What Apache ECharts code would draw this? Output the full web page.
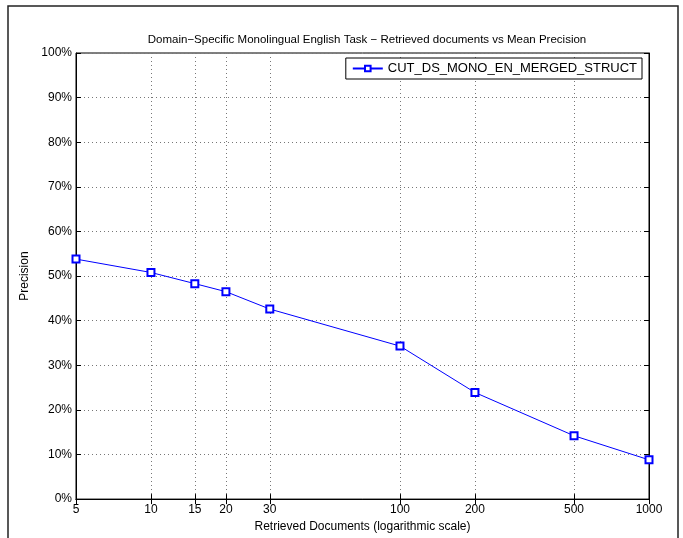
<!DOCTYPE html>
<html><head><meta charset="utf-8">
<script src="https://cdn.jsdelivr.net/npm/echarts@6/dist/echarts.min.js"></script>
<style>html,body{margin:0;padding:0;background:#fff}#c{width:683px;height:538px}</style>
</head><body><div id="c"></div>
<script>
var retrievedDocs = [5, 10, 15, 20, 30, 100, 200, 500, 1000];
var precision = [53.8, 50.8, 48.3, 46.5, 42.6, 34.3, 23.9, 14.2, 8.8];
var xTicks = [5, 10, 15, 20, 30, 100, 200, 500, 1000];
var seriesName = 'CUT_DS_MONO_EN_MERGED_STRUCT';

var FONT = '"Liberation Sans", Arial, Helvetica, sans-serif';
var chart = echarts.init(document.getElementById('c'));
var data = retrievedDocs.map(function (x, i) { return [x, precision[i]]; });
var grid = { left: 76, right: 34, top: 53, bottom: 33, show: true, borderColor: '#000', borderWidth: 1, backgroundColor: '#fff' };
var dotted = { color: '#777', width: 1, type: [1, 3] };
chart.setOption({
  animation: false,
  textStyle: { fontFamily: FONT },
  title: { text: 'Domain\u2212Specific Monolingual English Task \u2212 Retrieved documents vs Mean Precision', left: 362, textAlign: 'center', top: 29,
    textStyle: { fontFamily: FONT, fontSize: 11.5, fontWeight: 'normal', color: '#000' } },
  graphic: [{ type: 'rect', shape: { x: 8, y: 6, width: 670, height: 560 }, style: { fill: null, stroke: '#222', lineWidth: 1.5 }, silent: true }],
  grid: grid,
  legend: { data: [seriesName], right: 41, top: 58, orient: 'vertical', borderColor: '#000', borderWidth: 1, backgroundColor: '#fff', padding: [4, 5, 4, 6], itemWidth: 30, itemHeight: 7, itemGap: 0,
    textStyle: { fontFamily: FONT, fontSize: 13, color: '#000', padding: [0, 0, 0, 0] } },
  xAxis: [{
    type: 'log', logBase: 10, min: 5, max: 1000,
    name: 'Retrieved Documents (logarithmic scale)', nameLocation: 'middle', nameGap: 21,
    nameTextStyle: { fontFamily: FONT, fontSize: 12, color: '#000' },
    axisLine: { lineStyle: { color: '#000' } },
    axisTick: { inside: true, length: 5, customValues: xTicks, lineStyle: { color: '#000' } },
    axisLabel: { customValues: xTicks, fontFamily: FONT, fontSize: 12, color: '#000', margin: 5, formatter: function (v) { return String(Math.round(v)); } },
    splitLine: { show: true, lineStyle: dotted }, minorTick: { show: false }
  }, {
    type: 'log', logBase: 10, min: 5, max: 1000, position: 'top',
    axisLine: { lineStyle: { color: '#000' } },
    axisTick: { inside: true, length: 5, customValues: xTicks, lineStyle: { color: '#000' } },
    axisLabel: { show: false }, splitLine: { show: false }
  }],
  yAxis: [{
    type: 'value', min: 0, max: 100, interval: 10,
    name: 'Precision', nameLocation: 'middle', nameGap: 43, nameRotate: 90,
    nameTextStyle: { fontFamily: FONT, fontSize: 12, color: '#000' },
    axisLine: { show: true, lineStyle: { color: '#000' } },
    axisTick: { show: true, inside: true, length: 5, lineStyle: { color: '#000' } },
    axisLabel: { formatter: '{value}%', fontFamily: FONT, fontSize: 12, color: '#000', margin: 4 },
    splitLine: { show: true, lineStyle: dotted }
  }, {
    type: 'value', min: 0, max: 100, interval: 10, position: 'right',
    axisLine: { show: true, lineStyle: { color: '#000' } },
    axisTick: { show: true, inside: true, length: 5, lineStyle: { color: '#000' } },
    axisLabel: { show: false }, splitLine: { show: false }
  }],
  series: [{
    name: seriesName, type: 'line', data: data, xAxisIndex: 0, yAxisIndex: 0,
    symbol: 'emptyRect', symbolSize: 7, showAllSymbol: true,
    lineStyle: { color: '#0000ff', width: 1 },
    itemStyle: { color: '#0000ff', borderColor: '#0000ff', borderWidth: 1 },
    clip: false
  }]
});
</script></body></html>
